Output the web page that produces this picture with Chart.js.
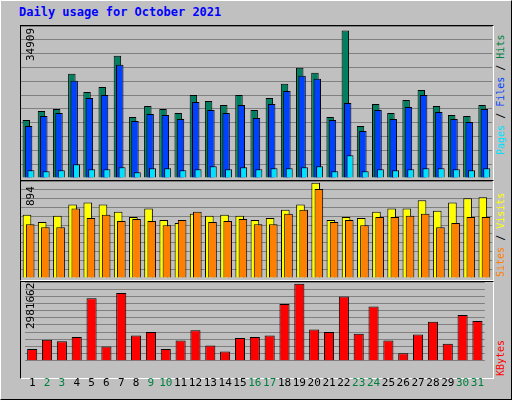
<!DOCTYPE html>
<html>
<head>
<meta charset="utf-8">
<script src="https://cdn.jsdelivr.net/npm/chart.js@4"></script>
<style>
  body { margin: 0; background: #fff; }
  #wrap { position: relative; width: 510px; height: 398px; background: #c0c0c0;
          border-top: 1px solid #fff; border-left: 1px solid #fff;
          border-right: 1px solid #000; border-bottom: 1px solid #000;
          font-family: "DejaVu Sans Mono", monospace; }
  .panel { position: absolute; left: 19px; width: 472px; border: 1px solid #000;
           border-right-color: #fff; border-bottom-color: #fff; }
  .rot { position: absolute; transform-origin: left top; transform: rotate(-90deg);
         white-space: nowrap; font-size: 10px; line-height: 12px; }
  canvas { position: absolute; }
</style>
</head>
<body>
<div id="wrap">
  <div style="position:absolute;left:18px;top:4px;color:#0000ff;font-weight:bold;font-size:12px;">Daily usage for October 2021</div>
  <div class="panel" style="top:24px;height:154px;"></div>
  <div class="panel" style="top:179px;height:99px;"></div>
  <div class="panel" style="top:280px;height:96px;"></div>
  <canvas id="c1" style="left:20px;top:25px;width:471px;height:152px;"></canvas>
  <canvas id="c2" style="left:20px;top:180px;width:471px;height:97px;"></canvas>
  <canvas id="c3" style="left:20px;top:281px;width:471px;height:116px;"></canvas>
  <div class="rot" style="left:24px;top:60px;font-size:11px;">34909</div>
  <div class="rot" style="left:24px;top:205px;font-size:11px;">894</div>
  <div class="rot" style="left:24px;top:328px;font-size:11px;">2981662</div>
  <div class="rot" style="left:494px;top:154px;"><span style="color:#00e0ff">Pages</span> / <span style="color:#0040ff">Files</span> / <span style="color:#008040">Hits</span></div>
  <div class="rot" style="left:494px;top:276px;"><span style="color:#ff8000">Sites</span> / <span style="color:#ffff00">Visits</span></div>
  <div class="rot" style="left:494px;top:375px;color:#ff0000">KBytes</div>
</div>
<script>
const days = Array.from({length: 31}, (_, i) => String(i + 1));
const weekendDays = [2, 3, 9, 10, 16, 17, 23, 24, 30, 31];

const hits = [13726, 15868, 16344, 24675, 20390, 21580, 28959, 14440, 17058, 16344, 15392, 19676, 18248, 17296, 19676, 16106,
  18962, 22294, 26103, 24913, 14440, 34909, 12298, 17534, 15392, 18486, 20866, 17058, 14916, 14678, 17296];
const files = [12298, 14678, 15392, 23008, 18962, 19676, 26816, 13488, 15154, 14916, 13964, 18010, 16106, 15392, 17296, 14202,
  17534, 20628, 24198, 23484, 13726, 17772, 11107, 16106, 13964, 16820, 19676, 15630, 13964, 13250, 16344];
const pages = [1825, 1587, 1825, 3253, 2063, 2063, 2539, 1349, 2301, 2301, 1825, 2063, 2777, 2063, 2539, 2063,
  2301, 2301, 2539, 2777, 1587, 5395, 1587, 2063, 1825, 2063, 2301, 2301, 2063, 1825, 2301];
const sites = [593, 525, 583, 690, 709, 690, 622, 573, 651, 544, 515, 602, 583, 593, 583, 544,
  564, 641, 690, 894, 544, 573, 564, 622, 651, 651, 729, 632, 709, 748, 758];
const visits = [505, 476, 476, 651, 564, 593, 534, 554, 534, 496, 544, 622, 525, 534, 554, 505,
  505, 602, 641, 836, 525, 544, 496, 573, 573, 583, 602, 476, 515, 573, 573];
const kbytes = [458724, 819150, 753618, 917448, 2424684, 557022, 2621280, 982980, 1114044, 458724, 786384, 1179576, 589788,
  360426, 884682, 917448, 982980, 2195322, 2981662, 1212342, 1114044, 2490216, 1048512, 2097024, 786384, 294894, 1015746,
  1507236, 655320, 1769364, 1540002];

// draw datasets first-to-last so later (narrower) series sit on top
const drawInOrder = {
  id: 'drawInOrder',
  beforeDatasetDraw: () => false,
  afterDatasetsDraw(chart) {
    chart.data.datasets.forEach((d, i) => chart.getDatasetMeta(i).controller.draw());
  }
};

function yAxis(max) {
  return {
    min: 0, max: max,
    ticks: { display: false, stepSize: max / 11, count: 12 },
    grid: { color: '#808080', lineWidth: 1, drawTicks: false },
    border: { display: false },
    afterFit: s => { s.width = 0; }
  };
}

function opts(max, showX) {
  return {
    responsive: false, animation: false,
    layout: { padding: 0 },
    plugins: { legend: { display: false }, tooltip: { enabled: false } },
    scales: {
      x: {
        display: showX,
        grid: { display: false },
        border: { display: false },
        ticks: {
          padding: 8, maxRotation: 0, autoSkip: false,
          font: { family: 'DejaVu Sans Mono', size: 11 },
          color: ctx => weekendDays.includes(ctx.index + 1) ? '#008040' : '#000'
        }
      },
      y: yAxis(max)
    }
  };
}

function bar(data, color, extra) {
  return Object.assign({ data: data, backgroundColor: color, borderColor: '#000', borderWidth: 1 }, extra);
}

function mk(id, w, h, cfg) {
  const c = document.getElementById(id);
  c.width = w; c.height = h;
  cfg.plugins = [drawInOrder];
  return new Chart(c.getContext('2d'), cfg);
}

mk('c1', 471, 152, {
  type: 'bar',
  data: { labels: days, datasets: [
    bar(hits, '#008060', { categoryPercentage: 0.46, barPercentage: 3.2 }),
    bar(files, '#0040ff', { categoryPercentage: 0.46, barPercentage: 3.2 }),
    bar(pages, '#00e0ff', { categoryPercentage: 0.46, barPercentage: 3.0 })
  ]},
  options: opts(36000, false)
});

mk('c2', 471, 97, {
  type: 'bar',
  data: { labels: days, datasets: [
    bar(sites, '#ffff00', { categoryPercentage: 0.42, barPercentage: 2.7 }),
    bar(visits, '#ff8000', { categoryPercentage: 0.42, barPercentage: 2.7 })
  ]},
  options: opts(910, false)
});

mk('c3', 471, 116, {
  type: 'bar',
  data: { labels: days, datasets: [
    bar(kbytes, '#ff0000', { categoryPercentage: 0.68, barPercentage: 1 })
  ]},
  options: opts(3050000, true)
});
</script>
</body>
</html>
